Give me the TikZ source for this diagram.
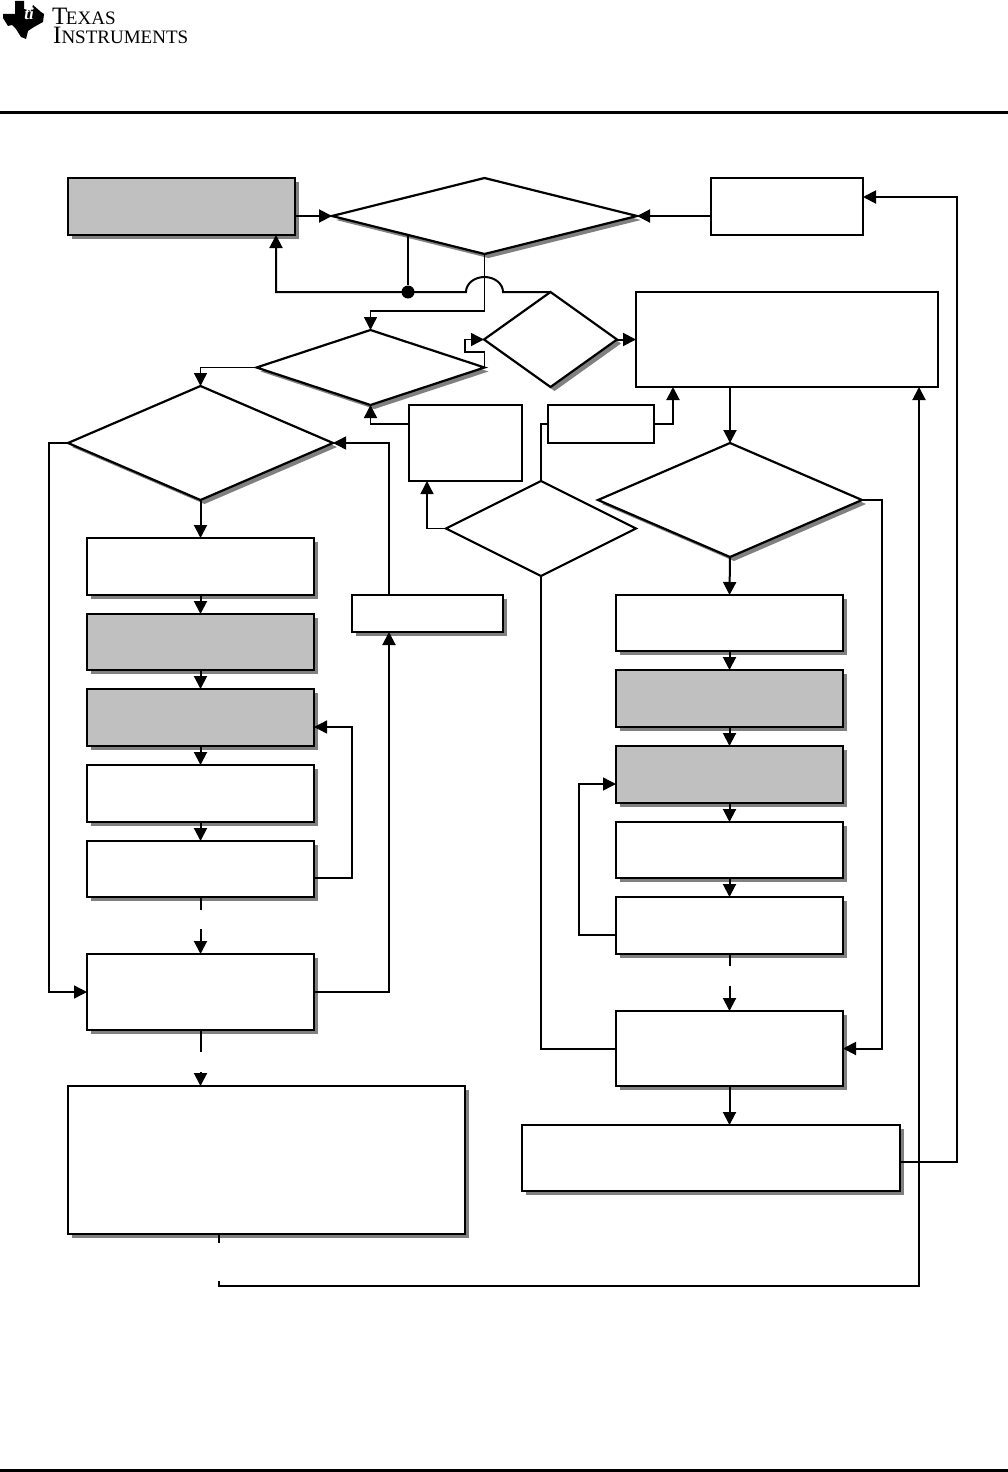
\documentclass[tikz,border=0pt]{standalone}
\usepackage{fontspec}
\setmainfont{Liberation Serif}
\usetikzlibrary{shapes.geometric,shadows,arrows.meta}
\definecolor{shd}{HTML}{808080}
\definecolor{boxgray}{HTML}{C0C0C0}
\tikzset{
  base/.style={draw=black,line width=2.2pt,inner sep=0pt,outer sep=0pt,fill=white},
  shad/.style={general shadow={fill=shd,shadow xshift=4pt,shadow yshift=-4pt}},
  rbox/.style={base,rectangle},
  gbox/.style={base,rectangle,fill=boxgray,shad},
  sbox/.style={base,rectangle,shad},
  dia/.style={base,diamond},
  sdia/.style={base,diamond,shad},
  arr/.style={line width=2pt,-{Triangle[length=13pt,width=13pt]}},
  lin/.style={line width=2pt},
  thin1/.style={line width=1.4pt},
  thinarr/.style={line width=1.4pt,-{Triangle[length=13pt,width=13pt]}},
}
% \bx[style]{name}{x1}{y1}{x2}{y2}
\newcommand{\bx}[6][rbox]{%
  \pgfmathsetmacro{\bxw}{#5-#3}\pgfmathsetmacro{\bxh}{#6-#4}%
  \pgfmathsetmacro{\bxcx}{(#5+#3)/2}\pgfmathsetmacro{\bxcy}{(#6+#4)/2}%
  \node[#1,minimum width=\bxw pt,minimum height=\bxh pt] (#2) at (\bxcx,\bxcy) {};}
\begin{document}
\begin{tikzpicture}[x=1pt,y=-1pt]
\useasboundingbox (0,0) rectangle (1008,1472);
% logo
\fill[black] (15,1) -- (24,1) -- (24,9) -- (31,11) -- (33,5) -- (41,12) -- (44,14) -- (43,22) -- (34,27) -- (28,31) -- (26,39) -- (21,37) -- (16,29) -- (12,25) -- (8,26) -- (3,18) -- (3,14) -- (15,14) -- cycle;
\node[inner sep=0pt,text=white,font=\fontsize{17}{17}\selectfont\bfseries\itshape] (tilogo) at (29,14) {ti};
\node[inner sep=0pt,anchor=north west,align=left,font=\fontsize{25}{19.5}\selectfont] (txt) at (52,7.5)
  {T\fontsize{19}{19.5}\selectfont\kern-1.5pt EXAS\\[0pt]\fontsize{25}{19.5}\selectfont\kern1pt I\fontsize{19}{19.5}\selectfont NSTRUMENTS};
% rules
\fill[black] (0,111) rectangle (1008,114);
\fill[black] (0,1469) rectangle (1008,1472);
% shapes
\bx[gbox]{A}{68}{178}{295}{235}
\bx{R}{711}{178}{863}{235}
\bx{Big}{636}{292}{938}{387}
\node[sdia,minimum width=305pt,minimum height=76pt] (D1) at (484.5,216) {};
\node[sdia,minimum width=228pt,minimum height=75pt] (D2) at (370.5,367.5) {};
\node[sdia,minimum width=133pt,minimum height=95pt] (D3) at (550.5,339.5) {};
\node[sdia,minimum width=265pt,minimum height=114pt] (D4) at (200.5,443) {};
\node[dia,minimum width=190pt,minimum height=95pt] (D5) at (541,528.5) {};
\node[sdia,minimum width=264pt,minimum height=114pt] (D6) at (730,500) {};
\bx{M1}{409}{405}{522}{481}
\bx{M2}{548}{405}{654}{443}
\bx[sbox]{M3}{352}{595}{503}{632}
\bx[sbox]{L1}{87}{538}{314}{595}
\bx[gbox]{L2}{87}{614}{314}{670}
\bx[gbox]{L3}{87}{689}{314}{746}
\bx[sbox]{L4}{87}{765}{314}{822}
\bx[sbox]{L5}{87}{841}{314}{897}
\bx[sbox]{L6}{87}{954}{314}{1030}
\bx[sbox]{LB}{68}{1086}{465}{1234}
\bx[sbox]{R1}{616}{595}{843}{651}
\bx[gbox]{R2}{616}{670}{843}{727}
\bx[gbox]{R3}{616}{746}{843}{803}
\bx[sbox]{R4}{616}{822}{843}{878}
\bx[sbox]{R5}{616}{897}{843}{954}
\bx[sbox]{R6}{616}{1011}{843}{1086}
\bx[sbox]{RB}{522}{1125}{900}{1191}
% helper points
\node[circle,fill=black,inner sep=0pt,minimum size=13pt] (dot) at (408,292) {};
\coordinate (hopR) at (503,292);
\coordinate (d1tap) at (408,235);
\coordinate (aS) at (276,235);
\coordinate (j1) at (484.5,311);
\coordinate (d2a) at (484.5,352);
\coordinate (d2b) at (465,352);
\coordinate (bigS1) at (919,387);
\coordinate (bigS2) at (673,387);
\coordinate (m1w) at (409,424);
\coordinate (m3top) at (389,595);
\coordinate (m3bot) at (389,632);
\coordinate (l5a) at (200.5,910);\coordinate (l5b) at (200.5,929);
\coordinate (l5e) at (314,878);\coordinate (l5r) at (352,878);\coordinate (l3e) at (314,727);
\coordinate (l6a) at (200.5,1052);\coordinate (l6b) at (200.5,1072);
\coordinate (r5w) at (616,935);\coordinate (r5l) at (579,935);\coordinate (r3w) at (616,784);
\coordinate (r5a) at (729.5,966);\coordinate (r5b) at (729.5,986);
\coordinate (lbS) at (219,1234);
\coordinate (lba) at (219,1243);\coordinate (lbb) at (219,1281);\coordinate (lbc) at (219,1286);
\coordinate (m1S) at (427,481);
\coordinate (rbE) at (957,1162);
\coordinate (rE) at (863,197);
% connectors
\draw[arr] (A.east |- D1.west) -- (D1.west);
\draw[arr] (R.west |- D1.east) -- (D1.east);
\draw[lin] (d1tap) -- (dot);
\draw[arr] (D3.north) -- (hopR) arc[start angle=0,end angle=180,x radius=18.5pt,y radius=15pt] -- (dot.center) -- (dot.center -| aS) -- (aS);
\draw[thinarr] (D1.south) -- (j1) -| (D2.north);
\draw[thinarr] (D2.east) -- (d2a) -- (d2b) |- (D3.west);
\draw[thinarr] (D2.west) -| (D4.north);
\draw[thinarr] (m1w) -| (D2.south);
\draw[thinarr] (m3top) |- (D4.east);
\draw[thinarr] (D4.west) -- ++(-19,0) |- (L6.west);
\draw[arr] (D3.east) -- (Big.west);
\draw[arr] (Big.south -| D6.north) -- (D6.north);
\draw[arr] (D4.south) -- (L1.north);
\draw[arr] (L1.south) -- (L2.north);
\draw[arr] (L2.south) -- (L3.north);
\draw[arr] (L3.south) -- (L4.north);
\draw[arr] (L4.south) -- (L5.north);
\draw[lin] (L5.south) -- (l5a);
\draw[arr] (l5b) -- (L6.north);
\draw[lin] (L6.south) -- (l6a);
\draw[arr] (l6b) -- (LB.north -| l6b);
\draw[thinarr] (l5e) -- (l5r) |- (l3e);
\draw[arr] (L6.east) -| (m3bot);
\draw[lin] (lbS) -- (lba);
\draw[arr] (lbb) -- (lbc) -| (bigS1);
\draw[arr] (M2.east) -| (bigS2);
\draw[thin1] (D5.north) |- (M2.west);
\draw[thinarr] (D5.west) -| (m1S);
\draw[lin] (D5.south) |- (R6.west);
\draw[arr] (D6.east) -- ++(20,0) |- (R6.east);
\draw[arr] (D6.south) -- (R1.north);
\draw[arr] (R1.south) -- (R2.north);
\draw[arr] (R2.south) -- (R3.north);
\draw[arr] (R3.south) -- (R4.north);
\draw[arr] (R4.south) -- (R5.north);
\draw[thinarr] (r5w) -- (r5l) |- (r3w);
\draw[lin] (R5.south) -- (r5a);
\draw[arr] (r5b) -- (R6.north);
\draw[arr] (R6.south) -- (R6.south |- RB.north);
\draw[arr] (RB.east |- rbE) -- (rbE) |- (rE);
\end{tikzpicture}
\end{document}
